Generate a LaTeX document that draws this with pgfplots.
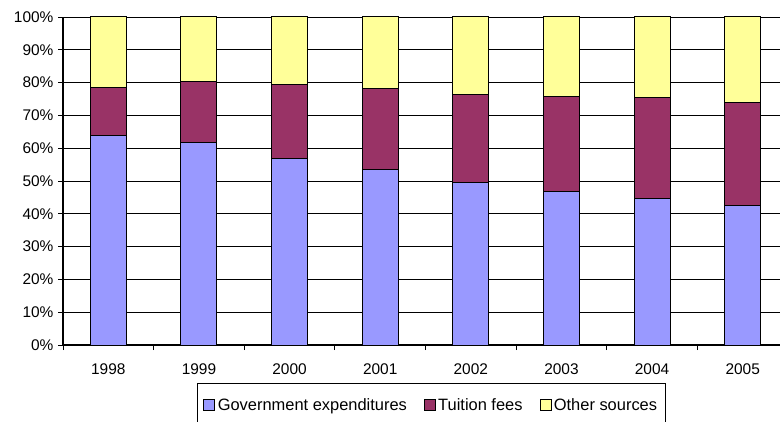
\documentclass[border=0pt]{standalone}
\usepackage{pgfplots}
\pgfplotsset{compat=1.18}
\usepackage{fontspec}
\setmainfont{Liberation Sans}
\definecolor{gov}{HTML}{9999FF}
\definecolor{tui}{HTML}{993366}
\definecolor{oth}{HTML}{FFFF99}
\begin{document}
\begin{tikzpicture}[x=1bp,y=1bp]
\useasboundingbox (0,0) rectangle (780,421);
\begin{axis}[
  at={(63bp,76bp)}, anchor=south west,
  scale only axis, width=725bp, height=328bp,
  ybar stacked, bar width=36bp,
  xmin=-0.5, xmax=7.5, ymin=0, ymax=100,
  axis lines=left, axis line style={line width=1.2bp,-},
  tick align=outside,
  xtick={0,...,7},
  xticklabels={1998,1999,2000,2001,2002,2003,2004,2005},
  major x tick style={draw=none},
  minor xtick={-0.5,0.5,...,7.5},
  minor x tick style={line width=1bp,black},
  minor tick length=5bp,
  ytick={0,10,...,100},
  yticklabels={0\%,10\%,20\%,30\%,40\%,50\%,60\%,70\%,80\%,90\%,100\%},
  major tick length=5bp,
  y tick style={line width=0.8bp,black},
  ymajorgrids, grid style={black,line width=0.8bp},
  tick label style={font=\fontsize{15.5}{18}\selectfont},
  xticklabel style={yshift=-10bp},
  yticklabel style={xshift=-1bp},
  every axis plot/.append style={draw=black,line width=1bp},
  legend style={at={(0.1848,-0.1159)}, anchor=north west, legend columns=-1,
    draw=black, line width=1bp, font=\fontsize{16.5}{18}\selectfont,
    inner xsep=6bp, inner ysep=13bp,
    /tikz/every odd column/.append style={column sep=0.5bp},
    /tikz/every even column/.append style={column sep=15bp}},
  every axis plot post/.append style={legend image code/.code={\draw[#1,line width=0.8bp,draw=black] (0bp,-5.5bp) rectangle (11bp,5.5bp);}},
]
\addplot[fill=gov] coordinates {(0,63.8) (1,61.7) (2,57.0) (3,53.5) (4,49.6) (5,46.7) (6,44.8) (7,42.4)};
\addplot[fill=tui] coordinates {(0,14.8) (1,18.5) (2,22.5) (3,24.8) (4,26.9) (5,29.1) (6,30.6) (7,31.5)};
\addplot[fill=oth] coordinates {(0,21.4) (1,19.8) (2,20.5) (3,21.7) (4,23.5) (5,24.2) (6,24.6) (7,26.1)};
\legend{Government expenditures, Tuition fees, Other sources}
\end{axis}
\end{tikzpicture}
\end{document}
